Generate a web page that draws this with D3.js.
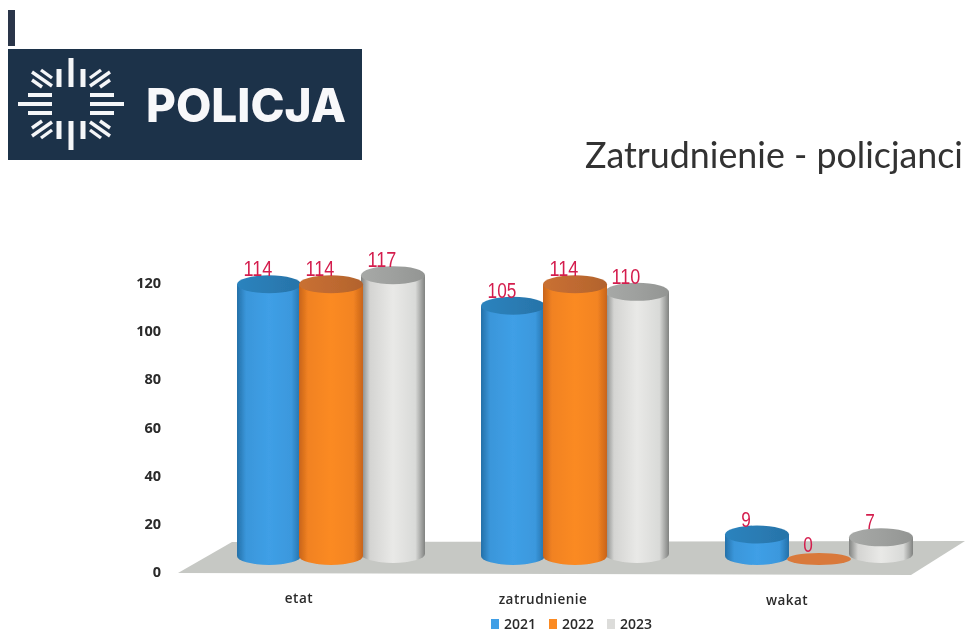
<!DOCTYPE html>
<html><head><meta charset="utf-8">
<script src="https://cdnjs.cloudflare.com/ajax/libs/d3/7.8.5/d3.min.js"></script>
<style>html,body{margin:0;padding:0;background:#fff;overflow:hidden}svg{display:block}</style>
</head><body><div id="chart"></div>
<script>
const categories = ["etat", "zatrudnienie", "wakat"];
const years = ["2021", "2022", "2023"];
const values2021 = [114, 105, 9];
const values2022 = [114, 114, 0];
const values2023 = [117, 110, 7];
const yTicks = [0, 20, 40, 60, 80, 100, 120];
const chartTitle = "Zatrudnienie - policjanci";
const logoText = "POLICJA";
const series = { "2021": values2021, "2022": values2022, "2023": values2023 };

const W = 965, H = 634;
const svg = d3.select("#chart").append("svg").attr("width", W).attr("height", H);
const defs = svg.append("defs");
function blur(id, s) {
  defs.append("filter").attr("id", id).attr("x", "-5%").attr("y", "-5%").attr("width", "110%").attr("height", "110%")
    .append("feGaussianBlur").attr("stdDeviation", s);
}
blur("scan", 0.55); blur("soft", 0.4);

const palette = {
  "2021": { edge: "#2470a8", mid: "#3f9fe6", top: "#2a7cb4", flat: "#3f9fe6" },
  "2022": { edge: "#c8641c", mid: "#fb8a22", top: "#bf6a30", flat: "#d9793a" },
  "2023": { edge: "#808280", mid: "#e9e9e7", top: "#9ea09e", flat: "#dcdcda" }
};
years.forEach(k => {
  const g = defs.append("linearGradient").attr("id", "grad" + k);
  const mix = d3.interpolateRgb(palette[k].edge, palette[k].mid);
  [[0, palette[k].edge], [0.14, mix(0.8)], [0.5, palette[k].mid], [0.85, mix(0.85)], [1, palette[k].edge]]
    .forEach(s => g.append("stop").attr("offset", s[0]).attr("stop-color", s[1]));
  const t = defs.append("linearGradient").attr("id", "top" + k);
  [[0, d3.color(palette[k].top).brighter(0.15)], [0.5, palette[k].top], [1, d3.color(palette[k].top).darker(0.2)]]
    .forEach(s => t.append("stop").attr("offset", s[0]).attr("stop-color", s[1]));
});

/* logo */
const logo = svg.append("g").attr("filter", "url(#soft)");
logo.append("rect").attr("x", 8).attr("y", 10).attr("width", 7).attr("height", 36).attr("fill", "#2c3448");
logo.append("rect").attr("x", 8).attr("y", 49).attr("width", 354).attr("height", 111).attr("fill", "#1f3049");
const star = logo.append("g").attr("transform", "translate(71,104)").attr("stroke", "#f4f6f8").attr("fill", "none");
[1, -1].forEach(s => {
  [[-12, -17, -35], [0, -17, -46], [12, -17, -35]].forEach(a =>
    star.append("line").attr("x1", a[0]).attr("x2", a[0]).attr("y1", s * a[1]).attr("y2", s * a[2]).attr("stroke-width", 5));
  [[-9, -19, -43], [0, -19, -53], [9, -19, -43]].forEach(a =>
    star.append("line").attr("y1", a[0]).attr("y2", a[0]).attr("x1", s * a[1]).attr("x2", s * a[2]).attr("stroke-width", 4));
  [1, -1].forEach(u => {
    [[-39, -32, -19, -18], [-39, -24, -29, -17], [-30, -34, -19, -26]].forEach(a =>
      star.append("line").attr("x1", s * a[0]).attr("y1", u * a[1]).attr("x2", s * a[2]).attr("y2", u * a[3]).attr("stroke-width", 3.4));
  });
});
logo.append("text").text(logoText).attr("x", 146).attr("y", 122).attr("font-family", "Inter,sans-serif")
  .attr("font-weight", 800).attr("font-size", 46).attr("fill", "#f7f8fa").attr("textLength", 200).attr("lengthAdjust", "spacingAndGlyphs");

/* title */
svg.append("text").text(chartTitle).attr("x", 585).attr("y", 168).attr("font-family", "Lato,sans-serif")
  .attr("font-size", 35.8).attr("fill", "#333").attr("filter", "url(#soft)");

/* scales */
const y = d3.scaleLinear().domain([0, 120]).range([572, 283]);
const h = d3.scaleLinear().domain([0, 120]).range([0, 286]);
const x0 = d3.scaleBand().domain(categories).range([209, 941]);
const x1 = d3.scalePoint().domain(years).range([-62, 62]);
const baseY = { "2021": 556, "2022": 556, "2023": 554 };
const rx = 32, ry = 9;

const chart = svg.append("g").attr("filter", "url(#scan)");

/* floor */
chart.append("path").attr("d", d3.line()([[178, 573], [232, 542], [965, 541], [911, 575]]) + "Z").attr("fill", "#c6c8c4");

const axis = d3.axisLeft(y).tickValues(yTicks).tickSize(0).tickPadding(0);
const axG = chart.append("g").attr("transform", "translate(161,0)").call(axis);
axG.select(".domain").remove();
axG.selectAll("text").attr("font-family", "'Open Sans',sans-serif").attr("font-weight", 700).attr("font-size", 14.5).attr("fill", "#2a2a2a");

/* cylinders: blue, grey, then orange so that orange overlaps its neighbours */
const rows = [];
categories.forEach((c, i) => ["2021", "2023", "2022"].forEach(k => rows.push({ c, k, v: series[k][i] })));
const cx = d => x0(d.c) + x0.bandwidth() / 2 + x1(d.k);
const cyl = chart.selectAll("g.cyl").data(rows).join("g").attr("class", "cyl")
  .attr("transform", d => `translate(${cx(d)},0)`);
cyl.each(function (d) {
  const g = d3.select(this);
  const base = baseY[d.k], top = base - h(d.v);
  if (d.v === 0) {
    g.append("ellipse").attr("cy", base + 3).attr("rx", rx).attr("ry", 6).attr("fill", palette[d.k].flat);
    return;
  }
  g.append("path")
    .attr("d", `M${-rx},${top} V${base} A${rx},${ry} 0 0 0 ${rx},${base} V${top} Z`)
    .attr("fill", `url(#grad${d.k})`);
  g.append("ellipse").attr("cy", top).attr("rx", rx).attr("ry", ry).attr("fill", `url(#top${d.k})`);
});

/* value labels */
chart.selectAll("text.val").data(rows).join("text").attr("class", "val")
  .attr("x", d => cx(d) - 11)
  .attr("y", d => baseY[d.k] - h(d.v) - (d.v === 0 ? 4 : 8))
  .attr("text-anchor", "middle").attr("font-family", "'Liberation Sans',sans-serif").attr("font-size", 22)
  .attr("textLength", d => String(d.v).length * 9.6).attr("lengthAdjust", "spacingAndGlyphs")
  .attr("fill", "#d41f4e").text(d => d.v);

/* category labels */
const catX = d3.scalePoint().domain(categories).range([299, 787]);
chart.selectAll("text.cat").data(categories).join("text").attr("class", "cat")
  .attr("x", d => catX(d)).attr("y", (d, i) => 603 + i)
  .attr("text-anchor", "middle").attr("font-family", "'Open Sans',sans-serif").attr("font-weight", 600).attr("font-size", 13.5)
  .attr("letter-spacing", 0.5).attr("fill", "#2a2a2a").text(d => d);

/* legend */
const legendX = d3.scalePoint().domain(years).range([491, 607]);
const leg = chart.selectAll("g.leg").data(years).join("g").attr("class", "leg").attr("transform", d => `translate(${legendX(d)},624)`);
leg.append("rect").attr("y", -5).attr("width", 8).attr("height", 10).attr("fill", d => d === "2022" ? "#fb8a22" : palette[d].flat);
leg.append("text").attr("x", 13).attr("y", 5).attr("font-family", "'Open Sans',sans-serif").attr("font-weight", 600).attr("font-size", 14)
  .attr("fill", "#2a2a2a").text(d => d);
</script></body></html>
